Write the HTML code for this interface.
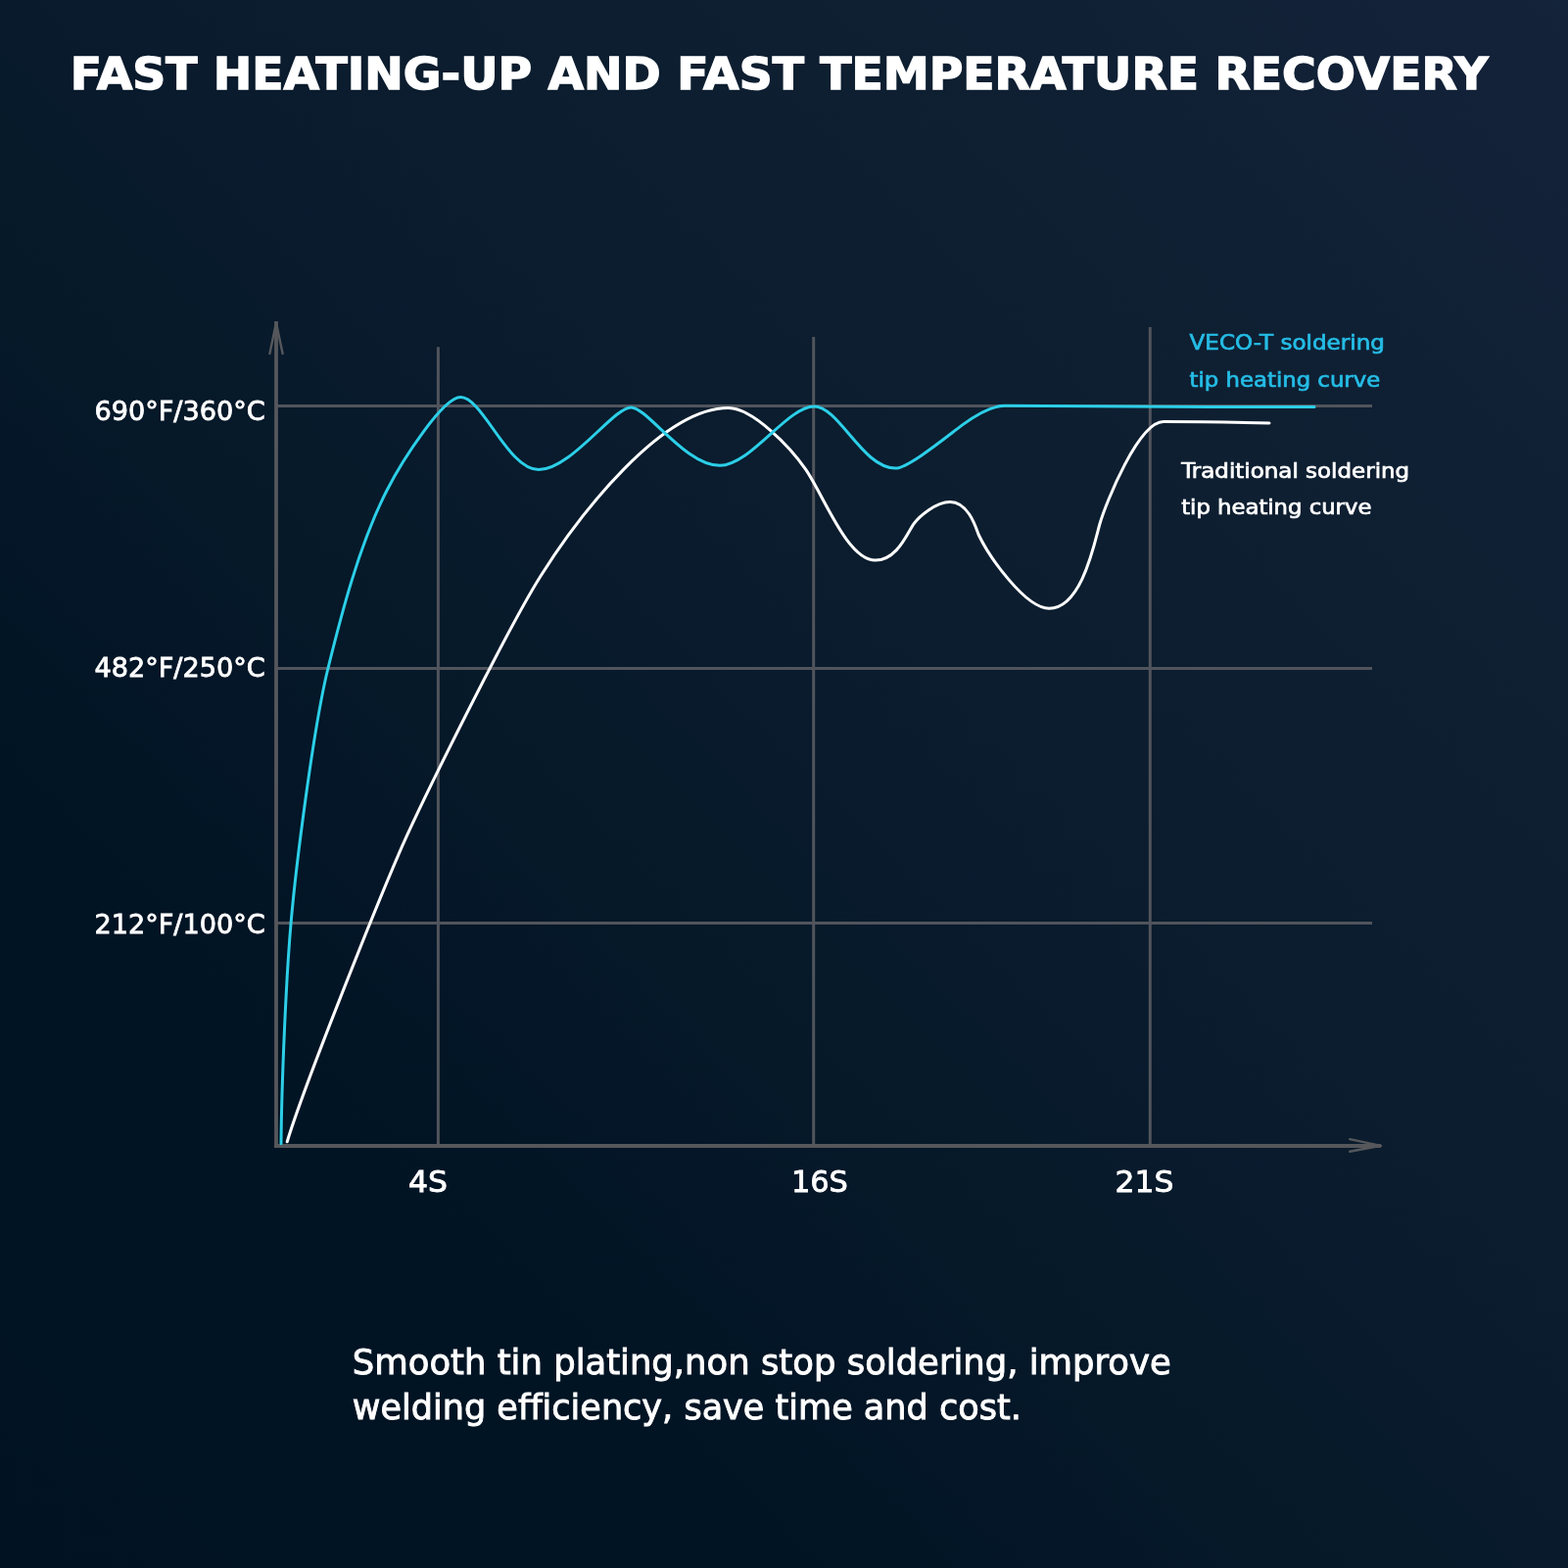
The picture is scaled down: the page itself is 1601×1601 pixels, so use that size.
<!DOCTYPE html>
<html><head><meta charset="utf-8"><title>Fast heating-up and fast temperature recovery</title>
<style>
html,body{margin:0;padding:0;}
body{width:1601px;height:1601px;overflow:hidden;position:relative;background: linear-gradient(45deg, #011322 0%, #011424 25%, #041627 35%, #071a2a 45%, #081a2c 50%, #0a1c2d 57%, #0c1e2f 68%, #0e1f31 74%, #132239 98%, #14243b 100%);}
svg{position:absolute;left:0;top:0;}
text{font-family:"DejaVu Sans","Liberation Sans",sans-serif;font-variant-ligatures:none;font-kerning:normal;}
</style></head><body>
<svg width="1601" height="1601" viewBox="0 0 1601 1601">
<g stroke="#51545c" stroke-width="3" fill="none">
<line x1="282" y1="414.5" x2="1401" y2="414.5"/>
<line x1="282" y1="682.4" x2="1401" y2="682.4"/>
<line x1="282" y1="942.5" x2="1401" y2="942.5"/>
<line x1="447.4" y1="354.2" x2="447.4" y2="1170"/>
<line x1="830.7" y1="344" x2="830.7" y2="1170"/>
<line x1="1174.3" y1="334" x2="1174.3" y2="1170"/>
</g>
<g stroke="#55575b" stroke-width="3.8" fill="none" stroke-linecap="butt">
<line x1="282" y1="328" x2="282" y2="1171.9"/>
<line x1="280.1" y1="1170" x2="1410" y2="1170"/>
<polyline points="275.4,361 282,329.5 288.6,361" stroke-width="2.4" stroke-linecap="round" stroke-linejoin="round"/>
<polyline points="1378.2,1163.2 1410,1169.8 1378.2,1175.8" stroke-width="2.4" stroke-linecap="round" stroke-linejoin="round"/>
</g>
<path d="M293.2,1165.7 C310.8,1107.5 384.0,925.7 407.3,871.6 C428.4,822.3 519.9,639.1 551.8,588.5 C591.4,525.5 675.8,416.6 743.7,416.6 C768.3,416.6 806.9,456.1 822.9,479.7 C841.7,507.4 865.4,572.1 893.7,572.1 C916.1,572.1 926.4,544.0 933.0,534.8 C938.2,527.6 955.5,512.5 970.0,512.5 C988.0,512.5 995.9,536.7 999.2,546.0 C1010.1,568.7 1047.1,621.2 1071.2,621.2 C1104.8,621.2 1117.8,552.9 1122.9,535.0 C1129.2,513.1 1162.7,430.6 1188.0,430.6 C1219.6,430.6 1264.9,431.3 1296.0,432.0" stroke="#ffffff" stroke-width="3" fill="none" stroke-linecap="round" stroke-linejoin="round"/>
<path d="M287.0,1167.7 C287.5,1107.8 292.0,1000.6 297.1,942.2 C302.2,884.0 320.1,742.5 334.9,682.5 C347.6,631.1 366.3,556.8 395.0,500.7 C411.1,469.3 452.4,405.6 470.3,405.6 C492.8,405.6 518.6,479.6 550.0,479.6 C582.9,479.6 626.5,415.9 644.3,415.9 C660.9,415.9 699.5,475.3 735.0,475.3 C766.4,475.3 803.8,415.0 831.2,415.0 C856.8,415.0 880.6,478.1 914.3,478.1 C927.4,478.1 967.1,445.4 982.6,433.9 C1000.1,421.0 1015.1,414.2 1026.0,414.2 C1095.5,414.2 1234.1,416.1 1342.0,415.6" stroke="#2ccfe8" stroke-width="3" fill="none" stroke-linecap="round" stroke-linejoin="round"/>
<text id="title" x="71.80" y="91.20" font-size="44.8" fill="#ffffff" font-weight="bold" stroke="#ffffff" stroke-width="1.4" textLength="1447.6" lengthAdjust="spacingAndGlyphs">FAST HEATING-UP AND FAST TEMPERATURE RECOVERY</text>
<text id="l690" x="96.50" y="429.20" font-size="27.1" fill="#ffffff" stroke="#ffffff" stroke-width="0.8">690°F/360°C</text>
<text id="l482" x="96.50" y="690.70" font-size="27.1" fill="#ffffff" stroke="#ffffff" stroke-width="0.8">482°F/250°C</text>
<text id="l212" x="96.50" y="953.20" font-size="27.1" fill="#ffffff" stroke="#ffffff" stroke-width="0.8">212°F/100°C</text>
<text id="x4" x="417.00" y="1216.80" font-size="29.6" fill="#ffffff" stroke="#ffffff" stroke-width="0.8" textLength="40.0" lengthAdjust="spacingAndGlyphs">4S</text>
<text id="x16" x="807.90" y="1216.80" font-size="29.6" fill="#ffffff" stroke="#ffffff" stroke-width="0.8" textLength="58.0" lengthAdjust="spacingAndGlyphs">16S</text>
<text id="x21" x="1138.60" y="1216.80" font-size="29.6" fill="#ffffff" stroke="#ffffff" stroke-width="0.8" textLength="60.0" lengthAdjust="spacingAndGlyphs">21S</text>
<text id="veco1" x="1214.60" y="357.00" font-size="21" fill="#25bde6" stroke="#25bde6" stroke-width="0.7" textLength="199.3" lengthAdjust="spacingAndGlyphs">VECO-T soldering</text>
<text id="veco2" x="1214.60" y="394.50" font-size="21" fill="#25bde6" stroke="#25bde6" stroke-width="0.7" textLength="194.6" lengthAdjust="spacingAndGlyphs">tip heating curve</text>
<text id="trad1" x="1206.20" y="487.80" font-size="21" fill="#ffffff" stroke="#ffffff" stroke-width="0.7" textLength="233.0" lengthAdjust="spacingAndGlyphs">Traditional soldering</text>
<text id="trad2" x="1206.20" y="525.10" font-size="21" fill="#ffffff" stroke="#ffffff" stroke-width="0.7" textLength="194.2" lengthAdjust="spacingAndGlyphs">tip heating curve</text>
<text id="body1" x="359.80" y="1403.00" font-size="35" fill="#ffffff" stroke="#ffffff" stroke-width="0.9" textLength="836.0" lengthAdjust="spacingAndGlyphs">Smooth tin plating,non stop soldering, improve</text>
<text id="body2" x="359.80" y="1449.00" font-size="35" fill="#ffffff" stroke="#ffffff" stroke-width="0.9" textLength="683.0" lengthAdjust="spacingAndGlyphs">welding efficiency, save time and cost.</text>
</svg>
</body></html>
